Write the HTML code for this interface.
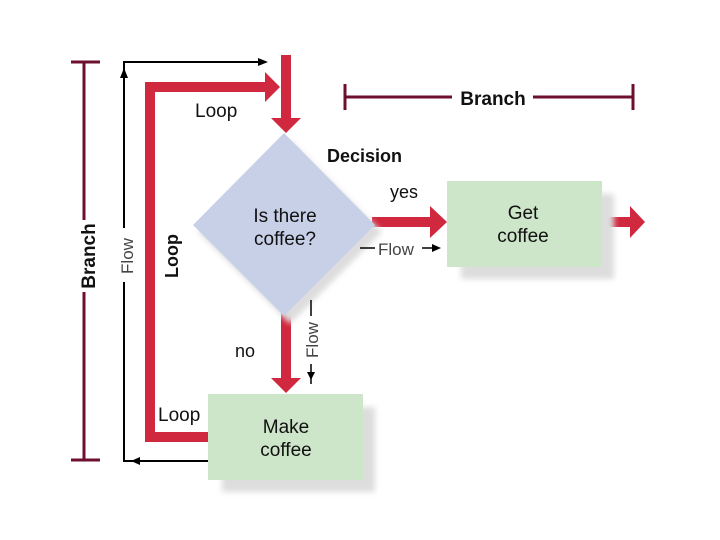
<!DOCTYPE html>
<html><head><style>html,body{margin:0;padding:0;background:#fff}svg{display:block}text{font-family:"Liberation Sans",sans-serif}</style></head><body>
<svg width="720" height="540" viewBox="0 0 720 540" xmlns="http://www.w3.org/2000/svg">
<defs><filter id="b"><feGaussianBlur stdDeviation="3"/></filter></defs>
<!-- left branch -->
<g stroke="#6e0f2e" stroke-width="3" fill="none">
<line x1="84" y1="62" x2="84" y2="220"/><line x1="84" y1="292" x2="84" y2="460"/>
<line x1="71" y1="62" x2="100" y2="62"/><line x1="71" y1="460" x2="100" y2="460"/>
<line x1="345" y1="84" x2="345" y2="110"/><line x1="633" y1="84" x2="633" y2="110"/>
<line x1="345" y1="97" x2="452" y2="97"/><line x1="533" y1="97" x2="633" y2="97"/>
</g>
<text transform="translate(95,256) rotate(-90)" text-anchor="middle" font-size="19" font-weight="bold" fill="#111">Branch</text>
<text x="493" y="105" text-anchor="middle" font-size="19" font-weight="bold" fill="#111">Branch</text>
<!-- flow black line -->
<g stroke="#000" stroke-width="2" fill="none">
<polyline points="262,62 124,62 124,228"/><polyline points="124,282 124,461 208,461"/>
</g>
<polygon points="268,62 258,58 258,66" fill="#000"/>
<polygon points="124,68 120,78 128,78" fill="#000"/>
<polygon points="131,461 140,457 140,465" fill="#000"/>
<text transform="translate(133,256) rotate(-90)" text-anchor="middle" font-size="17" fill="#444">Flow</text>
<!-- red loop -->
<g fill="#d0283e">
<polygon points="145,82 265,82 265,72 280,87 265,102 265,92 155,92 155,432 208,432 208,442 145,442"/>
<rect x="281" y="55" width="10" height="65"/>
<polygon points="271,118 301,118 286,133"/>
<rect x="281" y="312" width="10" height="68"/>
<polygon points="271,378 301,378 286,393"/>
<rect x="372" y="217" width="60" height="10"/>
<polygon points="430,206 447,222 430,238"/>
<rect x="602" y="217" width="30" height="10"/>
<polygon points="630,206 645,222 630,238"/>
</g>
<text transform="translate(178,256) rotate(-90)" text-anchor="middle" font-size="18" font-weight="bold" fill="#111">Loop</text>
<text x="195" y="117" font-size="19" fill="#111">Loop</text>
<text x="158" y="421" font-size="19" fill="#111">Loop</text>
<!-- diamond -->
<polygon points="290,140 382,232 290,324 198,232" fill="#ddd" filter="url(#b)"/>
<polygon points="284,133 375,225 284,316 193,225" fill="#c8d0e8"/>
<text x="285" y="222" text-anchor="middle" font-size="19" fill="#111">Is there</text>
<text x="285" y="245" text-anchor="middle" font-size="19" fill="#111">coffee?</text>
<text x="327" y="162" font-size="18" font-weight="bold" fill="#111">Decision</text>
<text x="390" y="198" font-size="18" fill="#111">yes</text>
<text x="235" y="357" font-size="18" fill="#111">no</text>
<!-- horizontal Flow -->
<line x1="360" y1="248" x2="375" y2="248" stroke="#000" stroke-width="1.5"/>
<text x="378" y="255" font-size="17" fill="#444">Flow</text>
<line x1="422" y1="248" x2="436" y2="248" stroke="#000" stroke-width="1.5"/>
<polygon points="441,248 432,244 432,252" fill="#000"/>
<!-- vertical Flow -->
<line x1="311" y1="300" x2="311" y2="316" stroke="#000" stroke-width="1.5"/>
<text transform="translate(318,340) rotate(-90)" text-anchor="middle" font-size="17" fill="#444">Flow</text>
<line x1="311" y1="364" x2="311" y2="384" stroke="#000" stroke-width="1.5"/>
<polygon points="311,380 307,372 315,372" fill="#000"/>
<!-- boxes -->
<rect x="222" y="407" width="153" height="85" fill="#ddd" filter="url(#b)"/>
<rect x="208" y="394" width="155" height="86" fill="#cde5c8"/>
<text x="286" y="433" text-anchor="middle" font-size="19" fill="#111">Make</text>
<text x="286" y="456" text-anchor="middle" font-size="19" fill="#111">coffee</text>
<rect x="461" y="194" width="153" height="85" fill="#ddd" filter="url(#b)"/>
<rect x="447" y="181" width="155" height="86" fill="#cde5c8"/>
<text x="523" y="219" text-anchor="middle" font-size="19" fill="#111">Get</text>
<text x="523" y="242" text-anchor="middle" font-size="19" fill="#111">coffee</text>
</svg>
</body></html>
